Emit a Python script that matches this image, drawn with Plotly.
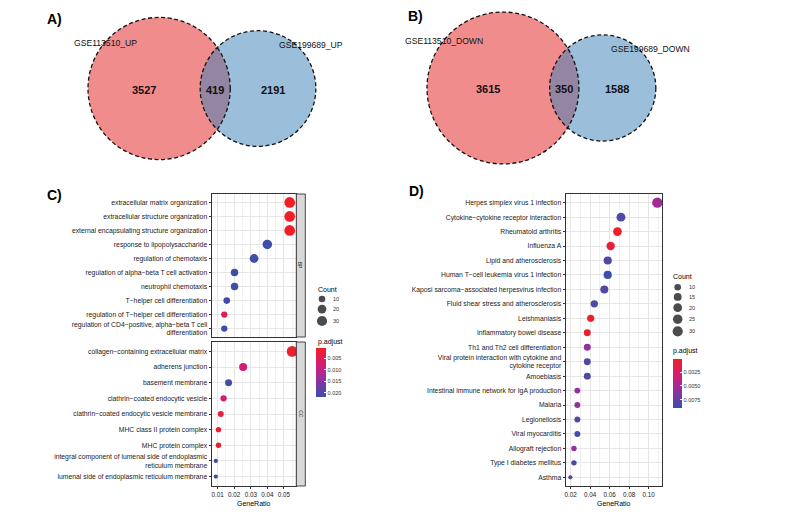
import math
import plotly.graph_objects as go

W, H = 789, 512
FONT = "Liberation Sans, Arial, sans-serif"

# ---------------- data ----------------
venn_a_sets = ["GSE113510_UP", "GSE199689_UP"]
venn_a_counts = [3527, 419, 2191]          # left only, shared, right only
venn_b_sets = ["GSE113510_DOWN", "GSE199689_DOWN"]
venn_b_counts = [3615, 350, 1588]

bp_terms = [
    "extracellular matrix organization",
    "extracellular structure organization",
    "external encapsulating structure organization",
    "response to lipopolysaccharide",
    "regulation of chemotaxis",
    "regulation of alpha\u2212beta T cell activation",
    "neutrophil chemotaxis",
    "T\u2212helper cell differentiation",
    "regulation of T\u2212helper cell differentiation",
    "regulation of CD4\u2212positive, alpha\u2212beta T cell<br>differentiation",
]
bp_ratio = [0.0535, 0.0535, 0.0535, 0.0400, 0.0320, 0.0202, 0.0202, 0.0155, 0.0140, 0.0140]
bp_count = [34, 34, 34, 25, 20, 13, 13, 10, 9, 9]
bp_padj = [0.0003, 0.0003, 0.0003, 0.0214, 0.0213, 0.0216, 0.0214, 0.0208, 0.0040, 0.0216]

cc_terms = [
    "collagen\u2212containing extracellular matrix",
    "adherens junction",
    "basement membrane",
    "clathrin\u2212coated endocytic vesicle",
    "clathrin\u2212coated endocytic vesicle membrane",
    "MHC class II protein complex",
    "MHC protein complex",
    "integral component of lumenal side of endoplasmic<br>reticulum membrane",
    "lumenal side of endoplasmic reticulum membrane",
]
cc_ratio = [0.0550, 0.0254, 0.0166, 0.0136, 0.0119, 0.0105, 0.0105, 0.0089, 0.0089]
cc_count = [35, 16, 11, 9, 8, 7, 7, 6, 6]
cc_padj = [0.0008, 0.0075, 0.0212, 0.0072, 0.0030, 0.0015, 0.0015, 0.0218, 0.0218]

kegg_terms = [
    "Herpes simplex virus 1 infection",
    "Cytokine\u2212cytokine receptor interaction",
    "Rheumatoid arthritis",
    "Influenza A",
    "Lipid and atherosclerosis",
    "Human T\u2212cell leukemia virus 1 infection",
    "Kaposi sarcoma\u2212associated herpesvirus infection",
    "Fluid shear stress and atherosclerosis",
    "Leishmaniasis",
    "Inflammatory bowel disease",
    "Th1 and Th2 cell differentiation",
    "Viral protein interaction with cytokine and<br>cytokine receptor",
    "Amoebiasis",
    "Intestinal immune network for IgA production",
    "Malaria",
    "Legionellosis",
    "Viral myocarditis",
    "Allograft rejection",
    "Type I diabetes mellitus",
    "Asthma",
]
kegg_ratio = [0.1090, 0.0716, 0.0680, 0.0610, 0.0580, 0.0580, 0.0545, 0.0442, 0.0405,
              0.0370, 0.0370, 0.0370, 0.0370, 0.0268, 0.0268, 0.0268, 0.0268, 0.0233,
              0.0233, 0.0196]
kegg_count = [32, 21, 20, 18, 17, 17, 16, 13, 12, 11, 11, 11, 11, 8, 8, 8, 8, 7, 7, 6]
kegg_padj = [0.0052, 0.0082, 0.0001, 0.0008, 0.0082, 0.0090, 0.0083, 0.0082, 0.0004,
             0.0003, 0.0058, 0.0083, 0.0083, 0.0058, 0.0058, 0.0083, 0.0089, 0.0058,
             0.0083, 0.0082]

c_size_breaks = [10, 20, 30]
d_size_breaks = [10, 15, 20, 25, 30]
c_padj_ticks = [0.005, 0.010, 0.015, 0.020]
d_padj_ticks = [0.0025, 0.0050, 0.0075]

# ---------------- helpers ----------------
def px(x):
    return x / W

def py(y):
    return 1 - y / H

def lens_area(r1, r2, d):
    if d >= r1 + r2:
        return 0.0
    if d <= abs(r1 - r2):
        return math.pi * min(r1, r2) ** 2
    a1 = r1 * r1 * math.acos((d * d + r1 * r1 - r2 * r2) / (2 * d * r1))
    a2 = r2 * r2 * math.acos((d * d + r2 * r2 - r1 * r1) / (2 * d * r2))
    a3 = 0.5 * math.sqrt((-d + r1 + r2) * (d + r1 - r2) * (d - r1 + r2) * (d + r1 + r2))
    return a1 + a2 - a3

def venn_geometry(counts, k):
    a_only, both, b_only = counts
    r1 = k * math.sqrt(a_only + both)
    r2 = k * math.sqrt(b_only + both)
    target = math.pi * k * k * both
    lo, hi = abs(r1 - r2), r1 + r2
    for _ in range(80):
        mid = (lo + hi) / 2
        if lens_area(r1, r2, mid) > target:
            lo = mid
        else:
            hi = mid
    return r1, r2, (lo + hi) / 2

# colour scale: position 0 = largest p.adjust (blue, bottom), 1 = smallest (red, top)
CS = [[0.0, "#3C4FA7"], [0.2, "#693FA3"], [0.45, "#A82A95"], [0.7, "#D81C6E"], [1.0, "#EE1F26"]]

def size_map(vals, cmin, cmax, dmin, dmax):
    out = []
    for v in vals:
        t = (v - cmin) / (cmax - cmin)
        t = min(max(t, 0), 1)
        out.append(dmin + (dmax - dmin) * math.sqrt(t))
    return out

def neg(vals):
    return [-v for v in vals]

shapes = []
annotations = []

def text(x, y, s, size, bold=False, color="#000000", xanchor="center", angle=0):
    annotations.append(dict(
        x=px(x), y=py(y), xref="paper", yref="paper", text=("<b>%s</b>" % s) if bold else s,
        showarrow=False, xanchor=xanchor, yanchor="middle", textangle=angle,
        font=dict(family=FONT, size=size, color=color)))

# ---------------- Venn diagrams ----------------
def draw_venn(counts, sets, k, left_edge, cy, lab_pos):
    r1, r2, d = venn_geometry(counts, k)
    cx1 = left_edge + r1
    cx2 = cx1 + d
    for (cx, r, col) in [(cx1, r1, "rgba(228,26,28,0.5)"), (cx2, r2, "rgba(55,126,184,0.5)")]:
        shapes.append(dict(type="circle", xref="paper", yref="paper",
                           x0=px(cx - r), x1=px(cx + r), y0=py(cy + r), y1=py(cy - r),
                           fillcolor=col, line=dict(width=0), layer="below"))
    for (cx, r) in [(cx1, r1), (cx2, r2)]:
        shapes.append(dict(type="circle", xref="paper", yref="paper",
                           x0=px(cx - r), x1=px(cx + r), y0=py(cy + r), y1=py(cy - r),
                           fillcolor="rgba(0,0,0,0)",
                           line=dict(color="#111111", width=1.3, dash="4px,2.6px")))
    xs = [((cx1 - r1) + (cx2 - r2)) / 2, ((cx2 - r2) + (cx1 + r1)) / 2, ((cx1 + r1) + (cx2 + r2)) / 2]
    for xv, c in zip(xs, counts):
        text(xv, cy + 1, str(c), 11, bold=True, color="#111111")
    for (lx, ly), s in zip(lab_pos, sets):
        text(lx, ly, s, 8.6, color="#111111")

draw_venn(venn_a_counts, venn_a_sets, 1.132, 88, 88.5, [(105, 43), (311, 45)])
draw_venn(venn_b_counts, venn_b_sets, 1.206, 427, 88, [(444.5, 40.5), (650, 48.5)])

text(54, 19, "A)", 14, bold=True)
text(415, 16, "B)", 14, bold=True)
text(54, 195, "C)", 14, bold=True)
text(416, 191, "D)", 14, bold=True)

# ---------------- dot plots ----------------
fig = go.Figure()

c_all_count = bp_count + cc_count
c_cmin, c_cmax = min(c_all_count), max(c_all_count)
c_pmin, c_pmax = min(bp_padj + cc_padj), max(bp_padj + cc_padj)
d_cmin, d_cmax = min(kegg_count), max(kegg_count)
C_DMIN, C_DMAX = 4.2, 10.8
D_DMIN, D_DMAX = 4.2, 10.4

fig.add_trace(go.Scatter(
    x=bp_ratio, y=bp_terms, mode="markers", xaxis="x", yaxis="y",
    marker=dict(size=size_map(bp_count, c_cmin, c_cmax, C_DMIN, C_DMAX), color=neg(bp_padj),
                coloraxis="coloraxis", line=dict(width=0), opacity=1),
    cliponaxis=False, showlegend=False))
fig.add_trace(go.Scatter(
    x=cc_ratio, y=cc_terms, mode="markers", xaxis="x2", yaxis="y2",
    marker=dict(size=size_map(cc_count, c_cmin, c_cmax, C_DMIN, C_DMAX), color=neg(cc_padj),
                coloraxis="coloraxis", line=dict(width=0), opacity=1),
    cliponaxis=False, showlegend=False))
fig.add_trace(go.Scatter(
    x=kegg_ratio, y=kegg_terms, mode="markers", xaxis="x3", yaxis="y3",
    marker=dict(size=size_map(kegg_count, d_cmin, d_cmax, D_DMIN, D_DMAX), color=neg(kegg_padj),
                coloraxis="coloraxis2", line=dict(width=0), opacity=1),
    cliponaxis=False, showlegend=False))

# size legends on a pixel-space overlay axis
def size_legend(breaks, cmin, cmax, dmin, dmax, key_x, y_top, lab_x, title_x, title_y):
    sizes = size_map(breaks, cmin, cmax, dmin, dmax)
    ys = []
    y = y_top
    for i, s in enumerate(sizes):
        if i > 0:
            y += (sizes[i - 1] + s) / 2 + 2.4
        ys.append(y)
    fig.add_trace(go.Scatter(x=[key_x] * len(breaks), y=ys, mode="markers", xaxis="x4", yaxis="y4",
                             marker=dict(size=sizes, color="#000000", line=dict(width=0)),
                             cliponaxis=False, showlegend=False, hoverinfo="skip"))
    for b, yv in zip(breaks, ys):
        text(lab_x, yv, str(b), 5.5, color="#333333", xanchor="left")
    text(title_x, title_y, "Count", 7, xanchor="left")

size_legend(c_size_breaks, c_cmin, c_cmax, C_DMIN, C_DMAX, 322, 299, 331, 315.5, 289)
size_legend(d_size_breaks, d_cmin, d_cmax, D_DMIN, D_DMAX, 677.7, 287.3, 686.5, 670.5, 276.5)
text(315.5, 341.5, "p.adjust", 7, xanchor="left")
text(670.5, 351, "p.adjust", 7, xanchor="left")

def xrange(vals):
    lo, hi = min(vals), max(vals)
    e = 0.05 * (hi - lo)
    return [lo - e, hi + e]

c_xr = xrange(bp_ratio + cc_ratio)
d_xr = xrange(kegg_ratio)

GRID = "#E6E6E6"
MINOR = "#F1F1F1"
LINE = "#333333"
TICKF = dict(family=FONT, size=6.8, color="#222222")
XTICKF = dict(family=FONT, size=6.3, color="#222222")

def xax(domain, rng, dtick, anchor, labels):
    return dict(domain=domain, range=rng, anchor=anchor, autorange=False,
                showgrid=True, gridcolor=GRID, gridwidth=0.8, zeroline=False,
                tick0=0, dtick=dtick, tickformat=".2f",
                minor=dict(dtick=dtick / 2, showgrid=True, gridcolor=MINOR, gridwidth=0.5, ticks=""),
                showline=True, mirror=True, linecolor=LINE, linewidth=0.9,
                ticks="outside" if labels else "", ticklen=2.5, tickwidth=0.8, tickcolor=LINE,
                showticklabels=labels, tickfont=XTICKF)

def yax(domain, cats, anchor):
    n = len(cats)
    return dict(domain=domain, anchor=anchor, type="category", categoryorder="array",
                categoryarray=cats, range=[n - 1 + 0.6, -0.6], autorange=False,
                showgrid=True, gridcolor=GRID, gridwidth=0.8, zeroline=False,
                showline=True, mirror=True, linecolor=LINE, linewidth=0.9,
                ticks="outside", ticklen=2.5, tickwidth=0.8, tickcolor=LINE,
                tickfont=TICKF)

C_X = [px(212), px(296)]
D_X = [px(566), px(661.7)]

def cbar(x, y_top, thick, ticks, fmt):
    return dict(x=px(x), xanchor="left", y=py(y_top), yanchor="top",
                len=48.5, lenmode="pixels", thickness=thick, thicknessmode="pixels",
                xpad=0, ypad=0, outlinewidth=0, tickvals=neg(ticks),
                ticktext=[fmt % v for v in ticks],
                ticks="inside", ticklen=2, tickcolor="white", tickwidth=0.8,
                tickfont=dict(family=FONT, size=5.5, color="#333333"), title=dict(text=""))

layout = dict(
    width=W, height=H, margin=dict(l=0, r=0, t=0, b=0),
    paper_bgcolor="white", plot_bgcolor="rgba(0,0,0,0)",
    font=dict(family=FONT),
    xaxis=xax(C_X, c_xr, 0.01, "y", False),
    yaxis=yax([py(337), py(194)], bp_terms, "x"),
    xaxis2=xax(C_X, c_xr, 0.01, "y2", True),
    yaxis2=yax([py(486), py(342)], cc_terms, "x2"),
    xaxis3=xax(D_X, d_xr, 0.02, "y3", True),
    yaxis3=yax([py(486), py(194)], kegg_terms, "x3"),
    xaxis4=dict(domain=[0, 1], range=[0, W], visible=False, anchor="y4", fixedrange=True),
    yaxis4=dict(domain=[0, 1], range=[H, 0], visible=False, anchor="x4", fixedrange=True),
    coloraxis=dict(cmin=-c_pmax, cmax=-c_pmin, colorscale=CS,
                   colorbar=cbar(316, 347.7, 9.5, c_padj_ticks, "%.3f")),
    coloraxis2=dict(cmin=-max(kegg_padj), cmax=-min(kegg_padj), colorscale=CS,
                    colorbar=cbar(672.5, 359, 9, d_padj_ticks, "%.4f")),
)

# facet strips
for (y0, y1, lab) in [(194, 337, "BP"), (342, 486, "CC")]:
    shapes.append(dict(type="rect", xref="paper", yref="paper", x0=px(296.3), x1=px(305.3),
                       y0=py(y1), y1=py(y0), fillcolor="#D9D9D9", line=dict(color=LINE, width=0.9)))
    text(300.8, (y0 + y1) / 2, lab, 5, color="#1A1A1A", angle=90)

text(254, 503, "GeneRatio", 7)
text(613.5, 503, "GeneRatio", 7)

layout["shapes"] = shapes
layout["annotations"] = annotations
fig.update_layout(**layout)
fig.write_html("out.html", config={"displayModeBar": False},
               post_script="document.body.style.margin='0px';")
